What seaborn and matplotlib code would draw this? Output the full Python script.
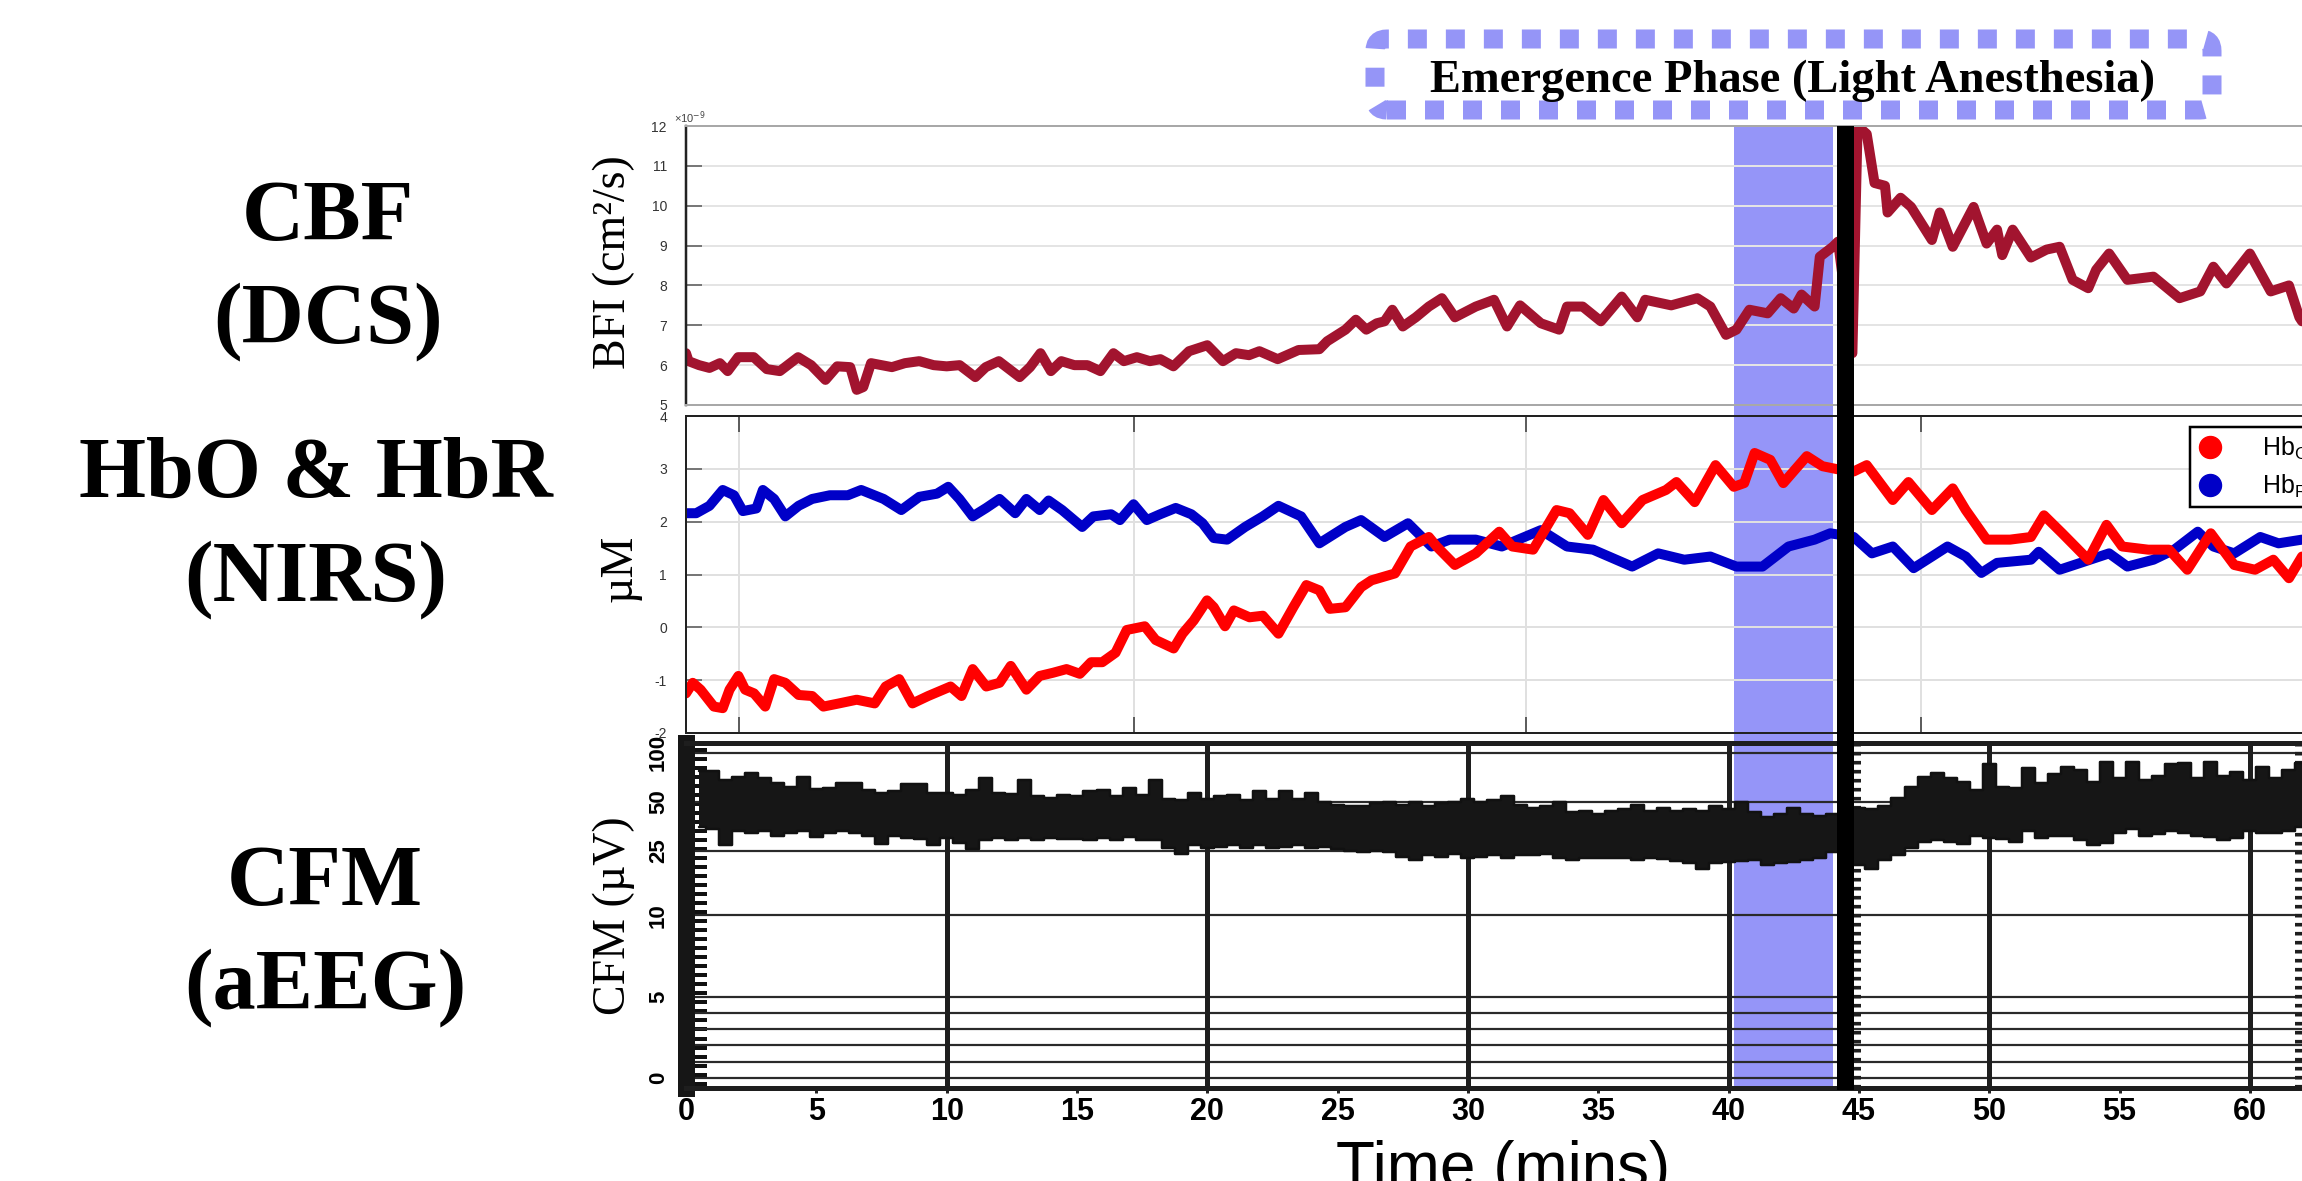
import numpy as np
import matplotlib
matplotlib.use("Agg")
import matplotlib.pyplot as plt
import matplotlib.transforms as mtransforms
from matplotlib.patches import Rectangle, FancyBboxPatch
from matplotlib.lines import Line2D
from matplotlib.ticker import FixedLocator, NullFormatter
from matplotlib import font_manager
import seaborn as sns

# ---------------------------------------------------------------- data
# CBF / DCS blood-flow index (x1e-9 cm^2/s) vs time (min)
bfi_time = [0.0, 0.1, 0.5, 0.9, 1.3, 1.6, 2.0, 2.6, 3.1, 3.6, 4.3, 4.8, 5.35, 5.8, 6.3, 6.55, 6.8,
            7.1, 7.9, 8.4, 8.95, 9.5, 10.0, 10.5, 11.1, 11.5, 12.0, 12.8, 13.2, 13.6, 14.0, 14.4,
            14.9, 15.4, 15.9, 16.4, 16.8, 17.3, 17.8, 18.2, 18.7, 19.3, 20.0, 20.6, 21.1, 21.6,
            22.0, 22.7, 23.5, 24.3, 24.6, 25.3, 25.7, 26.1, 26.5, 26.8, 27.1, 27.5, 28.0, 28.5,
            29.0, 29.5, 30.3, 31.0, 31.5, 32.0, 32.8, 33.5, 33.8, 34.4, 35.1, 35.9, 36.5, 36.8,
            37.8, 38.8, 39.3, 39.9, 40.3, 40.8, 41.5, 42.0, 42.5, 42.8, 43.3, 43.5, 44.0, 44.2,
            44.75, 44.95, 45.3, 45.6, 46.0, 46.1, 46.6, 47.0, 47.8, 48.1, 48.6, 49.4, 49.9, 50.3,
            50.5, 50.9, 51.6, 52.2, 52.7, 53.2, 53.8, 54.1, 54.6, 55.3, 56.3, 57.3, 58.1, 58.6,
            59.1, 60.0, 60.8, 61.5, 61.9, 62.0]
bfi_value = [6.3, 6.1, 6.0, 5.93, 6.05, 5.85, 6.2, 6.2, 5.9, 5.85, 6.2, 6.0, 5.63, 5.97, 5.95, 5.38,
             5.45, 6.05, 5.95, 6.05, 6.1, 6.0, 5.97, 6.0, 5.7, 5.95, 6.1, 5.7, 5.95, 6.3, 5.85, 6.1,
             6.0, 6.0, 5.85, 6.3, 6.1, 6.2, 6.1, 6.15, 5.97, 6.35, 6.5, 6.1, 6.3, 6.25, 6.35, 6.15,
             6.38, 6.4, 6.6, 6.89, 7.14, 6.89, 7.05, 7.1, 7.39, 6.97, 7.2, 7.47, 7.68, 7.2, 7.47,
             7.64, 6.97, 7.5, 7.05, 6.89, 7.47, 7.47, 7.1, 7.72, 7.2, 7.64, 7.5, 7.68, 7.47, 6.76,
             6.89, 7.39, 7.3, 7.68, 7.42, 7.77, 7.47, 8.72, 8.97, 9.1, 6.3, 12.0, 11.8, 10.57, 10.5,
             9.83, 10.2, 9.97, 9.14, 9.83, 8.97, 9.97, 9.05, 9.4, 8.76, 9.4, 8.7, 8.9, 8.97, 8.14,
             7.93, 8.39, 8.8, 8.14, 8.22, 7.68, 7.85, 8.47, 8.05, 8.8, 7.85, 8.0, 7.2, 7.1]
bfi_exponent = -9

# NIRS: HbR (blue) and HbO (red), micro-molar
hbr_time = [0.0, 0.39, 0.9, 1.41, 1.84, 2.18, 2.7, 2.95, 3.38, 3.81, 4.32, 4.84, 5.52, 6.21, 6.72,
            7.58, 8.26, 8.95, 9.63, 10.06, 10.49, 11.0, 11.52, 12.03, 12.63, 13.06, 13.57, 13.91,
            14.43, 15.2, 15.63, 16.31, 16.65, 17.17, 17.68, 18.19, 18.79, 19.39, 19.82, 20.25,
            20.76, 21.45, 22.13, 22.73, 23.6, 24.3, 25.3, 25.9, 26.8, 27.7, 28.6, 29.3, 30.3,
            31.3, 32.8, 33.8, 34.8, 36.3, 37.3, 38.3, 39.3, 40.3, 41.3, 42.3, 43.3, 43.9, 44.8,
            45.5, 46.3, 47.1, 47.8, 48.4, 49.1, 49.7, 50.3, 51.6, 51.9, 52.7, 53.5, 54.6, 55.3,
            56.3, 57.1, 58.0, 58.6, 59.4, 60.4, 61.1, 62.0]
hbr_value = [2.16, 2.16, 2.3, 2.6, 2.5, 2.2, 2.25, 2.6, 2.43, 2.1, 2.3, 2.43, 2.5, 2.5, 2.6, 2.43,
             2.22, 2.47, 2.53, 2.66, 2.43, 2.1, 2.26, 2.43, 2.16, 2.43, 2.22, 2.4, 2.22, 1.9, 2.1,
             2.14, 2.03, 2.33, 2.03, 2.14, 2.26, 2.14, 1.97, 1.69, 1.66, 1.9, 2.1, 2.3, 2.1, 1.59,
             1.9, 2.03, 1.71, 1.97, 1.53, 1.66, 1.66, 1.53, 1.84, 1.53, 1.47, 1.15, 1.4, 1.28,
             1.34, 1.15, 1.15, 1.53, 1.66, 1.78, 1.71, 1.4, 1.53, 1.12, 1.34, 1.53, 1.34, 1.03,
             1.22, 1.28, 1.43, 1.09, 1.22, 1.4, 1.15, 1.28, 1.47, 1.81, 1.53, 1.4, 1.71, 1.59, 1.66]
hbo_time = [0.0, 0.26, 0.56, 1.07, 1.41, 1.67, 2.01, 2.27, 2.61, 3.04, 3.38, 3.81, 4.32, 4.84,
            5.27, 5.87, 6.55, 7.24, 7.66, 8.18, 8.69, 9.29, 10.15, 10.57, 11.0, 11.52, 12.03,
            12.46, 13.06, 13.57, 14.08, 14.6, 15.11, 15.54, 15.97, 16.48, 16.91, 17.6, 18.02,
            18.71, 19.05, 19.48, 19.99, 20.25, 20.68, 21.02, 21.62, 22.13, 22.73, 23.3, 23.8,
            24.3, 24.7, 25.3, 25.9, 26.3, 27.2, 27.8, 28.5, 28.8, 29.5, 30.3, 31.2, 31.7, 32.5,
            33.4, 33.9, 34.6, 35.2, 35.9, 36.7, 37.6, 38.0, 38.7, 39.5, 40.2, 40.6, 41.0, 41.6,
            42.1, 43.0, 43.6, 44.3, 44.8, 45.3, 46.3, 46.9, 47.8, 48.6, 49.1, 49.9, 50.8, 51.6,
            52.1, 52.8, 53.8, 54.5, 55.1, 56.1, 56.9, 57.6, 58.5, 59.4, 60.2, 60.9, 61.5, 62.0]
hbo_value = [-1.25, -1.05, -1.18, -1.5, -1.53, -1.18, -0.92, -1.18, -1.25, -1.5, -0.98, -1.05,
             -1.28, -1.3, -1.5, -1.44, -1.37, -1.44, -1.12, -0.98, -1.44, -1.3, -1.12, -1.3, -0.79,
             -1.12, -1.05, -0.73, -1.18, -0.92, -0.86, -0.79, -0.88, -0.66, -0.66, -0.48, -0.05,
             0.02, -0.24, -0.4, -0.12, 0.13, 0.51, 0.38, 0.02, 0.32, 0.19, 0.22, -0.12, 0.38, 0.8,
             0.7, 0.35, 0.38, 0.76, 0.89, 1.02, 1.53, 1.71, 1.53, 1.18, 1.4, 1.81, 1.53, 1.47, 2.22,
             2.16, 1.75, 2.41, 1.97, 2.41, 2.6, 2.75, 2.37, 3.07, 2.66, 2.73, 3.3, 3.17, 2.73, 3.24,
             3.05, 2.98, 2.95, 3.07, 2.41, 2.75, 2.22, 2.63, 2.22, 1.66, 1.66, 1.71, 2.12, 1.78,
             1.28, 1.94, 1.53, 1.47, 1.47, 1.09, 1.78, 1.18, 1.09, 1.28, 0.93, 1.34]
nirs_labels = ["Hb$_\\mathregular{O}$", "Hb$_\\mathregular{R}$"]
nirs_xgrid = [2.03, 17.17, 32.24, 47.37]

# CFM / aEEG margins (micro-volt), every 0.5 min
cfm_time = [0.5 * k for k in range(1, 125)]
cfm_upper = [77, 77, 68, 71, 75, 70, 65, 62, 71, 60, 61, 65, 65, 59, 57, 58, 64, 64, 57, 57,
             55, 59, 70, 57, 56, 68, 54, 53, 55, 54, 58, 59, 54, 61, 55, 68, 52, 51, 57, 52,
             54, 55, 51, 58, 52, 58, 52, 57, 50, 48, 47, 47, 49, 50, 48, 50, 47, 49, 50, 52,
             50, 51, 54, 48, 46, 47, 50, 43, 44, 42, 44, 45, 48, 44, 46, 44, 45, 44, 47, 45,
             50, 43, 40.5, 42, 46, 42, 41, 42, 44, 46, 45, 47, 53, 62, 71, 75, 70, 66, 59, 85,
             62, 61, 81, 65, 74, 82, 79, 66, 88, 70, 88, 68, 72, 85, 87, 70, 88, 72, 76, 68,
             82, 70, 79, 87]
cfm_lower = [35, 34, 27, 33, 32, 33, 31, 32, 33, 30.5, 32, 33, 32, 31, 27.5, 31, 30, 29.5, 27, 30,
             28, 25.6, 29, 30, 29, 30, 29, 30, 29.5, 29.5, 29, 30, 29, 30.5, 29, 29, 26, 24, 27,
             26, 26.5, 27, 26, 27, 26, 26.5, 27, 26, 26.5, 25.5, 25, 24.5, 25, 24.5, 23, 21.8,
             23.5, 23, 24, 22.7, 23, 23.5, 22.7, 23.5, 23.5, 24, 22.5, 21.8, 22.5, 22.7, 22.5,
             22.7, 21.8, 22.5, 22.2, 21.5, 21, 19.4, 21, 21.3, 21.5, 21.8, 20.5, 20.9, 21.2, 21.8,
             22.5, 24.5, 22, 20.5, 19.4, 22, 23.5, 26, 28.5, 29, 28.5, 27.5, 31, 30, 29.5, 28.5,
             33, 30, 31, 31, 29, 27, 28, 32, 34, 31, 31.5, 33, 32, 31, 30.5, 29, 30, 33, 32, 32,
             33, 35]
cfm_levels = [0, 1, 2, 3, 4, 5, 10, 25, 50, 100]
cfm_yticks = [0, 5, 10, 25, 50, 100]
cfm_minute_lines = [10, 20, 30, 40, 50, 60]
cfm_marker_lines = [44.9, 61.9]
time_ticks = list(range(0, 61, 5))

# events
phase_start, phase_end = 40.2, 44.0
event_start, event_end = 44.15, 44.8
phase_title = "Emergence Phase (Light Anesthesia)"
row_titles = [("CBF", "(DCS)"), ("HbO & HbR", "(NIRS)"), ("CFM", "(aEEG)")]

# ---------------------------------------------------------------- style
sns.set_theme(style="white")
plt.rcParams["font.family"] = ["Liberation Sans", "DejaVu Sans"]
plt.rcParams["axes.unicode_minus"] = False
plt.rcParams["text.color"] = "black"
plt.rcParams["axes.labelcolor"] = "black"
plt.rcParams["xtick.color"] = "black"
plt.rcParams["ytick.color"] = "black"

_names = {f.name for f in font_manager.fontManager.ttflist}
if "Liberation Sans Narrow" in _names:
    NARROW, XT_SIZE, YT_SIZE, XL_SIZE = "Liberation Sans Narrow", 25, 18, 55
else:
    NARROW, XT_SIZE, YT_SIZE, XL_SIZE = "Liberation Sans", 22, 16, 46
SERIF = ["Liberation Serif", "DejaVu Serif"]

W, H, DPI = 2302, 1181, 100
PX = 72.0 / DPI
fig = plt.figure(figsize=(W / DPI, H / DPI), dpi=DPI, facecolor="white")


def prect(l, t, r, b):
    return [l / W, 1 - b / H, (r - l) / W, (b - t) / H]


ax1 = fig.add_axes(prect(686, 126, W, 405))
ax2 = fig.add_axes(prect(686, 416, W, 733))
ax3 = fig.add_axes(prect(686, 743, W, 1088))
for ax in (ax1, ax2, ax3):
    ax.set_facecolor("none")
    ax.set_xlim(0, 62)
    ax.set_axisbelow(True)
    ax.spines["right"].set_visible(False)

# ---------------------------------------------------------------- BFI panel
sns.lineplot(x=np.array(bfi_time), y=np.array(bfi_value), ax=ax1, color="#A2142F",
             linewidth=10 * PX, estimator=None, sort=False, legend=False)
ax1.set_ylim(5, 12)
ax1.set_yticks(range(5, 13))
ax1.set_xticks([])
ax1.grid(axis="y", color="#e4e4e4", linewidth=2 * PX)
ax1.tick_params(axis="y", direction="in", length=16 * PX, width=1.5 * PX, color="#555555",
                labelsize=10, labelcolor="#333333", pad=19 * PX, left=True)
ax1.spines["left"].set_color("#222222")
ax1.spines["left"].set_linewidth(2.5 * PX)
for s in ("top", "bottom"):
    ax1.spines[s].set_color("#a8a8a8")
    ax1.spines[s].set_linewidth(2 * PX)
ax1.set_xlabel("")
ax1.set_ylabel("")
fig.text(674 / W, 1 - 123 / H, "\u00d710$^{%d}$" % bfi_exponent, fontsize=8, color="#444444",
         ha="left", va="baseline")

# ---------------------------------------------------------------- NIRS panel
sns.lineplot(x=np.array(hbr_time), y=np.array(hbr_value), ax=ax2, color="#0000C8",
             linewidth=10 * PX, estimator=None, sort=False, legend=False)
sns.lineplot(x=np.array(hbo_time), y=np.array(hbo_value), ax=ax2, color="#FF0000",
             linewidth=10 * PX, estimator=None, sort=False, legend=False)
ax2.set_ylim(-2, 4)
ax2.set_yticks(range(-2, 5))
ax2.set_xticks(nirs_xgrid)
ax2.grid(True, color="#e0e0e0", linewidth=2 * PX)
ax2.tick_params(axis="x", direction="in", length=16 * PX, width=1.5 * PX, color="#333333",
                top=True, bottom=True, labelbottom=False)
ax2.tick_params(axis="y", direction="in", length=16 * PX, width=1.5 * PX, color="#555555",
                labelsize=10, labelcolor="#333333", pad=19 * PX, left=True)
for s in ("left", "top", "bottom"):
    ax2.spines[s].set_color("#222222")
    ax2.spines[s].set_linewidth(2 * PX)
ax2.set_xlabel("")
ax2.set_ylabel("")
handles = [Line2D([], [], ls="", marker="o", markersize=22 * PX, color=c)
           for c in ("#FF0000", "#0000C8")]
leg = ax2.legend(handles, nirs_labels, loc="upper left", bbox_to_anchor=(2190 / W, 1 - 427 / H),
                 bbox_transform=fig.transFigure, borderaxespad=0, fontsize=18, frameon=True,
                 fancybox=False, framealpha=1, edgecolor="black", borderpad=0.3,
                 handlelength=1.0, handletextpad=1.58, labelspacing=0.44)
leg.get_frame().set_linewidth(2.5 * PX)
for txt in leg.get_texts():
    txt.set_color("black")

# ---------------------------------------------------------------- CFM panel


def _fwd(v):
    v = np.asarray(v, dtype=float)
    return np.where(v <= 10, v / 10.0, 1.0 + np.log10(np.clip(v, 10, None) / 10.0))


def _inv(s):
    s = np.asarray(s, dtype=float)
    return np.where(s <= 1, s * 10.0, 10.0 * 10.0 ** (s - 1.0))


ax3.set_yscale("function", functions=(_fwd, _inv))
ax3.set_ylim(float(_inv(-0.062)), float(_inv(2.061)))
for v in cfm_levels:
    ax3.axhline(v, color="#2a2a2a", linewidth=2.2 * PX, zorder=1)
for t in cfm_minute_lines:
    ax3.axvline(t, color="#1e1e1e", linewidth=5 * PX, zorder=1)
for t in cfm_marker_lines:
    ax3.axvline(t, color="#1e1e1e", linewidth=9 * PX, linestyle=(0, (0.4, 0.6)), zorder=1)
ax3.fill_between(cfm_time, cfm_lower, cfm_upper, step="mid", color="#161616", linewidth=0,
                 zorder=3)
sns.lineplot(x=np.array(cfm_time), y=np.array(cfm_upper), ax=ax3, color="#111111",
             linewidth=2.5 * PX, drawstyle="steps-mid", estimator=None, sort=False,
             legend=False, zorder=3)
sns.lineplot(x=np.array(cfm_time), y=np.array(cfm_lower), ax=ax3, color="#111111",
             linewidth=2.5 * PX, drawstyle="steps-mid", estimator=None, sort=False,
             legend=False, zorder=3)
ax3.yaxis.set_major_locator(FixedLocator(cfm_yticks))
ax3.set_yticklabels([str(v) for v in cfm_yticks], rotation=90, fontfamily=NARROW,
                    fontweight="bold", fontsize=YT_SIZE, va="center", color="black")
ax3.yaxis.set_minor_locator(FixedLocator(_inv(np.arange(-0.035, 2.06, 0.0555))))
ax3.yaxis.set_minor_formatter(NullFormatter())
ax3.tick_params(axis="y", which="major", direction="in", length=0, pad=17 * PX, left=True)
ax3.tick_params(axis="y", which="minor", direction="in", length=21 * PX, width=4 * PX,
                color="#111111", left=True)
ax3.set_xticks(time_ticks)
ax3.set_xticklabels([str(t) for t in time_ticks], fontfamily=NARROW, fontweight="bold",
                    fontsize=XT_SIZE, color="black")
ax3.tick_params(axis="x", direction="out", length=5 * PX, width=3 * PX, color="#222222",
                pad=4 * PX, bottom=True)
ax3.spines["left"].set_color("#161616")
ax3.spines["left"].set_linewidth(17 * PX)
for s in ("top", "bottom"):
    ax3.spines[s].set_color("#1e1e1e")
    ax3.spines[s].set_linewidth(5 * PX)
ax3.set_xlabel("")
ax3.set_ylabel("")

# ---------------------------------------------------------------- overlays
blend = mtransforms.blended_transform_factory(ax3.transData, fig.transFigure)
fig.add_artist(Rectangle((phase_start, 1 - 1088 / H), phase_end - phase_start,
                         (1088 - 126) / H, transform=blend, facecolor="#9595F8",
                         edgecolor="none", zorder=-1))
fig.add_artist(Rectangle((event_start, 1 - 1090 / H), event_end - event_start,
                         (1090 - 126) / H, transform=blend, facecolor="black",
                         edgecolor="none", zorder=10))

box = FancyBboxPatch((1375 / DPI, (H - 110) / DPI), (2212 - 1375) / DPI, (110 - 39) / DPI,
                     boxstyle="round,pad=0,rounding_size=0.12", transform=fig.dpi_scale_trans,
                     facecolor="none", edgecolor="#9595F7", linewidth=19 * PX,
                     linestyle=(0, (1, 1)), zorder=11)
box.set_capstyle("butt")
fig.add_artist(box)
fig.text(1792.5 / W, 1 - 92 / H, phase_title, fontsize=33.5, fontweight="bold", family=SERIF,
         ha="center", va="baseline", zorder=12, color="black")

# y-axis labels
fig.text(614 / W, 1 - 262 / H, "BFI (cm\u00b2/s)", rotation=90, fontsize=33, family=SERIF,
         ha="center", va="center", color="black")
fig.text(620 / W, 1 - 568 / H, "\u00b5M", rotation=90, fontsize=33, family=SERIF,
         ha="center", va="center", color="black")
fig.text(614 / W, 1 - 916 / H, "CFM (\u00b5V)", rotation=90, fontsize=33, family=SERIF,
         ha="center", va="center", color="black")

# row titles
row_pos = [(328, 240, 342), (316, 497, 600), (325, 905, 1008)]
for (l1, l2), (cx, b1, b2) in zip(row_titles, row_pos):
    fig.text(cx / W, 1 - b1 / H, l1, fontsize=62, fontweight="bold", family=SERIF,
             ha="center", va="baseline", color="black")
    fig.text(cx / W, 1 - b2 / H, l2, fontsize=62, fontweight="bold", family=SERIF,
             ha="center", va="baseline", color="black")

# x label
fig.text(1503 / W, 1 - 1187 / H, "Time (mins)", fontsize=XL_SIZE, family=NARROW,
         ha="center", va="baseline", color="black")

fig.savefig("out.png", dpi=DPI, facecolor="white")
